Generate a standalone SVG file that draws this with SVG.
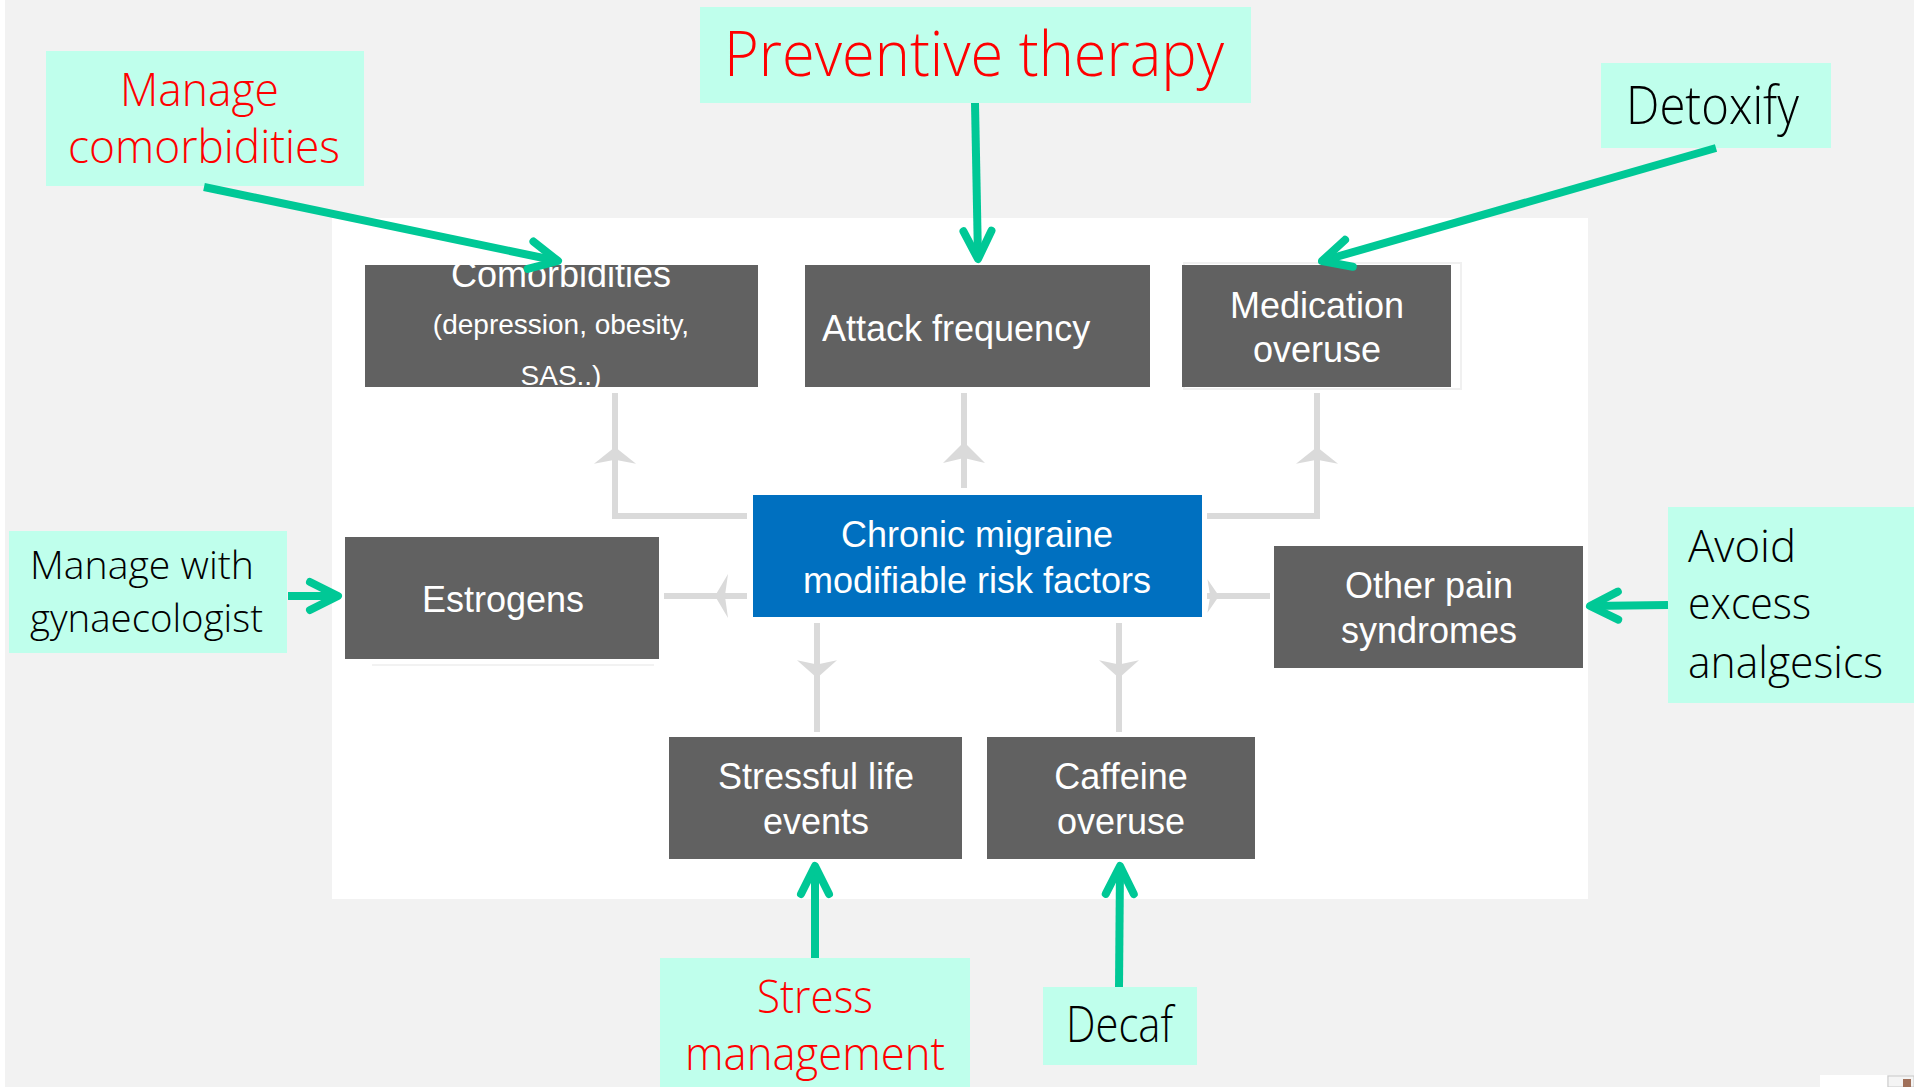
<svg xmlns="http://www.w3.org/2000/svg" width="1914" height="1087" viewBox="0 0 1914 1087">
  <defs>
    <style>
      .panel { fill: #ffffff; }
      .factor { fill: #616161; }
      .core { fill: #0070c0; }
      .callout { fill: #bfffec; }
      .ftext { font-family: "Liberation Sans", Arial, sans-serif; font-size: 36px; fill: #ffffff; text-anchor: middle; }
      .ctext { font-family: "Open Sans", "Liberation Sans", sans-serif; font-weight: 300; fill: #000000; }
      .red { fill: #ff0000; }
      .link { fill: none; stroke: #dadada; stroke-width: 6; }
      .head { fill: #dadada; }
      .action { fill: none; stroke: #00c896; stroke-width: 8; marker-end: url(#chev); }
    </style>
    <marker id="chev" markerUnits="userSpaceOnUse" markerWidth="50" markerHeight="50" viewBox="-40 -20 50 40" refX="0" refY="0" orient="auto">
      <path d="M-28,-14 L0,0 L-28,14" fill="none" stroke="#00c896" stroke-width="8" stroke-linecap="round" stroke-linejoin="round"/>
    </marker>
    <!-- light grey arrowhead, tip at origin, pointing up -->
    <path id="gh" d="M0,0 L21,21 L0,16 L-21,21 Z"/>
  </defs>

  <!-- page background -->
  <rect x="0" y="0" width="1914" height="1087" fill="#f2f2f2"/>
  <rect x="0" y="0" width="5" height="1087" fill="#ffffff"/>
  <rect class="panel" x="332" y="218" width="1256" height="681"/>

  <!-- grey risk-factor connectors -->
  <g id="factor-links">
    <path class="link" d="M747,516 H615 V393"/>
    <path class="link" d="M964,488 V393"/>
    <path class="link" d="M1207,516 H1317 V393"/>
    <path class="link" d="M747,596 H664"/>
    <path class="link" d="M1207,596 H1270"/>
    <path class="link" d="M817,623 V732"/>
    <path class="link" d="M1119,623 V732"/>
    <use href="#gh" class="head" transform="translate(615,447) scale(1,0.8)"/>
    <use href="#gh" class="head" transform="translate(964,442)"/>
    <use href="#gh" class="head" transform="translate(1317,447) scale(1,0.8)"/>
    <use href="#gh" class="head" transform="translate(715,596) rotate(-90) scale(1.05,0.62)"/>
    <use href="#gh" class="head" transform="translate(1219,596) rotate(90) scale(0.8,0.55)"/>
    <use href="#gh" class="head" transform="translate(817,678) rotate(180) scale(0.95,0.85)"/>
    <use href="#gh" class="head" transform="translate(1119,678) rotate(180) scale(0.95,0.85)"/>
  </g>

  <!-- risk factors -->
  <g id="comorbidities">
    <rect class="factor" x="365" y="265" width="393" height="122"/>
    <text class="ftext" x="561" y="287">Comorbidities</text>
    <text class="ftext" x="561" y="334" style="font-size:28px">(depression, obesity,</text>
    <text class="ftext" x="561" y="385" style="font-size:28px">SAS..)</text>
  </g>
  <g id="attack-frequency">
    <rect class="factor" x="805" y="265" width="345" height="122"/>
    <text class="ftext" x="822" y="341" style="text-anchor:start">Attack frequency</text>
  </g>
  <g id="medication-overuse">
    <rect x="1184" y="263" width="277" height="126" fill="none" stroke="#f0f0f0" stroke-width="2"/>
    <rect class="factor" x="1182" y="265" width="269" height="122"/>
    <text class="ftext" x="1317" y="318">Medication</text>
    <text class="ftext" x="1317" y="362">overuse</text>
  </g>
  <g id="estrogens">
    <rect class="factor" x="345" y="537" width="314" height="122"/>
    <line x1="372" y1="665" x2="654" y2="665" stroke="#f2f2f2" stroke-width="2"/>
    <text class="ftext" x="503" y="612">Estrogens</text>
  </g>
  <g id="chronic-migraine">
    <rect class="core" x="753" y="495" width="449" height="122"/>
    <text class="ftext" x="977" y="547">Chronic migraine</text>
    <text class="ftext" x="977" y="593">modifiable risk factors</text>
  </g>
  <g id="other-pain">
    <rect class="factor" x="1274" y="546" width="309" height="122"/>
    <text class="ftext" x="1429" y="598">Other pain</text>
    <text class="ftext" x="1429" y="643">syndromes</text>
  </g>
  <g id="stressful-life-events">
    <rect class="factor" x="669" y="737" width="293" height="122"/>
    <text class="ftext" x="816" y="789">Stressful life</text>
    <text class="ftext" x="816" y="834">events</text>
  </g>
  <g id="caffeine-overuse">
    <rect class="factor" x="987" y="737" width="268" height="122"/>
    <text class="ftext" x="1121" y="789">Caffeine</text>
    <text class="ftext" x="1121" y="834">overuse</text>
  </g>

  <!-- interventions -->
  <g id="manage-comorbidities">
    <rect class="callout" x="46" y="51" width="318" height="135"/>
    <text class="ctext red" x="120" y="106" font-size="46" textLength="159" lengthAdjust="spacingAndGlyphs">Manage</text>
    <text class="ctext red" x="68" y="163" font-size="46" textLength="272" lengthAdjust="spacingAndGlyphs">comorbidities</text>
  </g>
  <g id="preventive-therapy">
    <rect class="callout" x="700" y="7" width="551" height="96"/>
    <text class="ctext red" x="724" y="76" font-size="62" textLength="500" lengthAdjust="spacingAndGlyphs">Preventive therapy</text>
  </g>
  <g id="detoxify">
    <rect class="callout" x="1601" y="63" width="230" height="85"/>
    <text class="ctext" x="1626" y="124" font-size="53" textLength="173" lengthAdjust="spacingAndGlyphs">Detoxify</text>
  </g>
  <g id="manage-gynaecologist">
    <rect class="callout" x="9" y="531" width="278" height="122"/>
    <text class="ctext" x="30" y="579" font-size="39" textLength="224" lengthAdjust="spacingAndGlyphs">Manage with</text>
    <text class="ctext" x="30" y="632" font-size="39" textLength="233" lengthAdjust="spacingAndGlyphs">gynaecologist</text>
  </g>
  <g id="avoid-analgesics">
    <rect class="callout" x="1668" y="507" width="246" height="196"/>
    <text class="ctext" x="1688" y="562" font-size="45" textLength="108" lengthAdjust="spacingAndGlyphs">Avoid</text>
    <text class="ctext" x="1688" y="619" font-size="45" textLength="123" lengthAdjust="spacingAndGlyphs">excess</text>
    <text class="ctext" x="1688" y="678" font-size="45" textLength="195" lengthAdjust="spacingAndGlyphs">analgesics</text>
  </g>
  <g id="stress-management">
    <rect class="callout" x="660" y="958" width="310" height="129"/>
    <text class="ctext red" x="757" y="1013" font-size="46" textLength="116" lengthAdjust="spacingAndGlyphs">Stress</text>
    <text class="ctext red" x="685" y="1070" font-size="46" textLength="260" lengthAdjust="spacingAndGlyphs">management</text>
  </g>
  <g id="decaf">
    <rect class="callout" x="1043" y="987" width="154" height="78"/>
    <text class="ctext" x="1066" y="1042" font-size="49" textLength="107" lengthAdjust="spacingAndGlyphs">Decaf</text>
  </g>

  <!-- intervention arrows -->
  <g id="action-links">
    <line class="action" x1="204" y1="187" x2="558" y2="261"/>
    <line class="action" x1="975" y1="103" x2="978" y2="259"/>
    <line class="action" x1="1716" y1="148" x2="1322" y2="261"/>
    <line class="action" x1="288" y1="596" x2="338" y2="596"/>
    <line class="action" x1="1668" y1="605" x2="1590" y2="606"/>
    <line class="action" x1="815" y1="958" x2="815" y2="866"/>
    <line class="action" x1="1119" y1="987" x2="1120" y2="866"/>
  </g>

  <!-- corner widget -->
  <rect x="1820" y="1075" width="67" height="12" fill="#ffffff"/>
  <rect x="1888" y="1076" width="26" height="11" fill="#f4f4f4" stroke="#c8c8c8" stroke-width="1"/>
  <rect x="1903" y="1079" width="8" height="8" fill="#a0705a"/>
</svg>
